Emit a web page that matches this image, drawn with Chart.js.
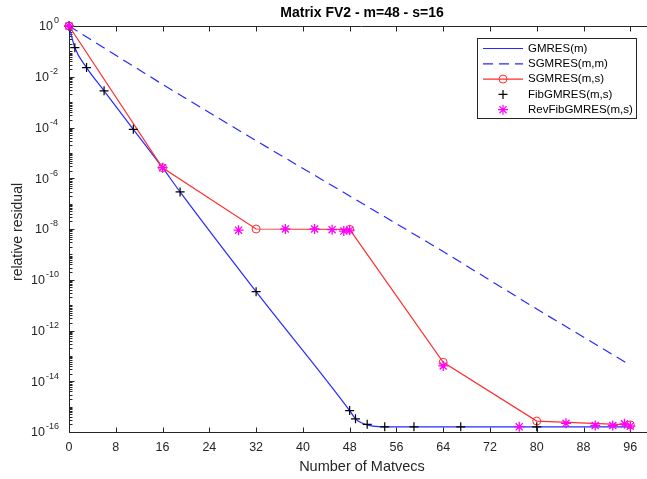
<!DOCTYPE html>
<html>
<head>
<meta charset="utf-8">
<title>Matrix FV2 - m=48 - s=16</title>
<script src="https://cdn.jsdelivr.net/npm/chart.js@4.4.1/dist/chart.umd.min.js"></script>
<style>
html, body { margin: 0; padding: 0; background: #fff; overflow: hidden; }
canvas { display: block; }
</style>
</head>
<body>
<canvas id="chart" width="660" height="479"></canvas>
<script>
// ---------- data ----------
const titleText = 'Matrix FV2 - m=48 - s=16';
const xTitle = 'Number of Matvecs';
const yTitle = 'relative residual';
const xTicks = [0, 8, 16, 24, 32, 40, 48, 56, 64, 72, 80, 88, 96];
const yTickExps = [0, -2, -4, -6, -8, -10, -12, -14, -16];

const gmresX = [0, 1, 3, 6, 11, 16, 19, 32, 48, 49, 50, 51, 52, 54, 59, 67, 80, 96];
const gmresY = [1, 1.4e-1, 2.3e-2, 2.8e-3, 8.5e-5, 2.6e-6, 2.9e-7, 3.4e-11, 7e-16, 3.3e-16, 2.3e-16, 1.9e-16, 1.7e-16, 1.6e-16, 1.6e-16, 1.6e-16, 1.6e-16, 1.6e-16];

const sgmresMMX = [0, 16, 32, 48, 64, 80, 96];
const sgmresMMY = [1, 5e-3, 3e-5, 2e-7, 1.3e-9, 7e-12, 4.3e-14];

const sgmresMSX = [0, 16, 32, 48, 64, 80, 96];
const sgmresMSY = [1, 2.6e-6, 1.0e-8, 9.7e-9, 5.6e-14, 2.7e-16, 1.9e-16];

const fibX = [0, 1, 3, 6, 11, 19, 32, 48, 49, 51, 54, 59, 67, 80];
const fibY = [1, 1.4e-1, 2.3e-2, 2.8e-3, 8.5e-5, 2.9e-7, 3.4e-11, 7e-16, 3.3e-16, 2e-16, 1.6e-16, 1.6e-16, 1.6e-16, 1.6e-16];

const revFibX = [0, 16, 29, 37, 42, 45, 47, 48, 64, 77, 85, 90, 93, 95, 96];
const revFibY = [1, 2.6e-6, 9e-9, 1.0e-8, 1.0e-8, 9.4e-9, 8.3e-9, 9e-9, 4e-14, 1.6e-16, 2.2e-16, 1.8e-16, 1.8e-16, 2.1e-16, 1.7e-16];

const BLUE = 'rgb(40,40,255)';
const RED = 'rgb(255,45,45)';
const MAGENTA = 'rgb(255,0,255)';
const AXIS = '#262626';
const FONT = '"Liberation Sans", Arial, Helvetica, sans-serif';

function pts(xs, ys) { return xs.map((x, i) => ({ x: x, y: ys[i] })); }

const datasets = [
    { label: 'GMRES(m)', data: pts(gmresX, gmresY), borderColor: BLUE, borderWidth: 1.2, pointRadius: 0, cubicInterpolationMode: 'monotone', order: 5 },
    { label: 'SGMRES(m,m)', data: pts(sgmresMMX, sgmresMMY), borderColor: BLUE, borderWidth: 1.2, borderDash: [10, 6], pointRadius: 0, order: 4 },
    { label: 'SGMRES(m,s)', data: pts(sgmresMSX, sgmresMSY), borderColor: RED, borderWidth: 1.2, pointStyle: 'circle', pointRadius: 4,
      pointBorderColor: RED, pointBackgroundColor: 'rgba(0,0,0,0)', pointBorderWidth: 1, order: 3 },
    { label: 'FibGMRES(m,s)', data: pts(fibX, fibY), showLine: false, pointStyle: 'cross', pointRadius: 4.5,
      pointBorderColor: '#000', pointBorderWidth: 1.2, order: 2 },
    { label: 'RevFibGMRES(m,s)', data: pts(revFibX, revFibY), showLine: false, pointStyle: 'star', pointRadius: 5,
      pointBorderColor: MAGENTA, pointBorderWidth: 1.3, order: 1 }
];
datasets.forEach(d => { d.clip = false; d.fill = false; });

const legendRows = [
    { text: 'GMRES(m)', color: BLUE, line: true, dash: [], marker: null },
    { text: 'SGMRES(m,m)', color: BLUE, line: true, dash: [10, 6], marker: null },
    { text: 'SGMRES(m,s)', color: RED, line: true, dash: [], marker: 'circle' },
    { text: 'FibGMRES(m,s)', color: '#000', line: false, dash: [], marker: 'cross' },
    { text: 'RevFibGMRES(m,s)', color: MAGENTA, line: false, dash: [], marker: 'star' }
];

const matlabAxes = {
    id: 'matlabAxes',
    beforeDatasetsDraw(chart) {
        const ctx = chart.ctx, a = chart.chartArea;
        const xs = chart.scales.x, ys = chart.scales.y;
        const L = Math.round(a.left) + 0.5, T = Math.round(a.top) + 0.5, B = Math.round(a.bottom) + 0.5, R = a.right;
        ctx.save();
        ctx.strokeStyle = AXIS;
        ctx.lineWidth = 1;
        ctx.beginPath();
        ctx.moveTo(L, T); ctx.lineTo(R, T);
        ctx.moveTo(L, T); ctx.lineTo(L, B);
        ctx.moveTo(L, B); ctx.lineTo(R, B);
        // x ticks (bottom and top)
        xTicks.forEach(v => {
            const px = Math.round(xs.getPixelForValue(v)) + 0.5;
            ctx.moveTo(px, B); ctx.lineTo(px, B - 5);
            ctx.moveTo(px, T); ctx.lineTo(px, T + 5);
        });
        // y ticks: major every 2 decades, minor at k*10^e
        for (let e = -16; e <= 0; e++) {
            const py = Math.round(ys.getPixelForValue(Math.pow(10, e))) + 0.5;
            const len = (e % 2 === 0) ? 5 : 3;
            ctx.moveTo(L, py); ctx.lineTo(L + len, py);
            if (e < 0) {
                for (let k = 2; k <= 9; k++) {
                    const pm = Math.round(ys.getPixelForValue(k * Math.pow(10, e))) + 0.5;
                    ctx.moveTo(L, pm); ctx.lineTo(L + 3, pm);
                }
            }
        }
        ctx.stroke();

        // tick labels
        ctx.fillStyle = AXIS;
        ctx.font = '12.5px ' + FONT;
        ctx.textAlign = 'center';
        ctx.textBaseline = 'middle';
        xTicks.forEach(v => ctx.fillText(String(v), xs.getPixelForValue(v), 448));
        yTickExps.forEach(e => {
            const py = ys.getPixelForValue(Math.pow(10, e));
            const sup = String(e);
            const baseRight = 57 - 4 * sup.length;
            ctx.font = '12.5px ' + FONT;
            ctx.textAlign = 'right';
            ctx.fillText('10', baseRight, py + 1);
            ctx.font = '9px ' + FONT;
            ctx.textAlign = 'left';
            ctx.fillText(sup, baseRight + 1, py - 5);
        });

        // titles
        ctx.textAlign = 'center';
        ctx.font = 'bold 14px ' + FONT;
        ctx.fillStyle = '#000';
        ctx.fillText(titleText, 362, 13);
        ctx.fillStyle = AXIS;
        ctx.font = '14.5px ' + FONT;
        ctx.fillText(xTitle, 362, 467);
        ctx.save();
        ctx.font = '14px ' + FONT;
        ctx.translate(18, 232);
        ctx.rotate(-Math.PI / 2);
        ctx.fillText(yTitle, 0, 0);
        ctx.restore();
        ctx.restore();
    },
    afterDraw(chart) {
        const ctx = chart.ctx;
        const x0 = 477.5, y0 = 38.5, w = 159, h = 80;
        ctx.save();
        ctx.fillStyle = '#fff';
        ctx.fillRect(x0, y0, w, h);
        ctx.strokeStyle = AXIS;
        ctx.lineWidth = 1;
        ctx.strokeRect(x0, y0, w, h);
        legendRows.forEach((r, i) => {
            const y = y0 + 10 + i * 15.3;
            if (r.line) {
                ctx.strokeStyle = r.color;
                ctx.lineWidth = 1.2;
                ctx.setLineDash(r.dash);
                ctx.beginPath();
                ctx.moveTo(483, y); ctx.lineTo(523, y);
                ctx.stroke();
                ctx.setLineDash([]);
            }
            if (r.marker) {
                ctx.strokeStyle = r.color;
                ctx.fillStyle = 'rgba(0,0,0,0)';
                const rad = r.marker === 'star' ? 5 : (r.marker === 'cross' ? 4.5 : 4);
                ctx.lineWidth = r.marker === 'circle' ? 1 : 1.2;
                Chart.helpers.drawPoint(ctx, { pointStyle: r.marker, rotation: 0, radius: rad, borderWidth: ctx.lineWidth }, 503, y);
            }
            ctx.fillStyle = '#000';
            ctx.font = '11.5px ' + FONT;
            ctx.textAlign = 'left';
            ctx.textBaseline = 'middle';
            ctx.fillText(r.text, 528, y);
        });
        ctx.restore();
    }
};

new Chart(document.getElementById('chart'), {
    type: 'line',
    data: { datasets: datasets },
    options: {
        responsive: false,
        animation: false,
        events: [],
        layout: { padding: { left: 69, top: 26, right: 6, bottom: 47 } },
        scales: {
            x: { type: 'linear', min: 0, max: 100, display: false },
            y: { type: 'logarithmic', min: 1e-16, max: 1, display: false }
        },
        plugins: { legend: { display: false }, tooltip: { enabled: false }, title: { display: false } }
    },
    plugins: [matlabAxes]
});
</script>
</body>
</html>
